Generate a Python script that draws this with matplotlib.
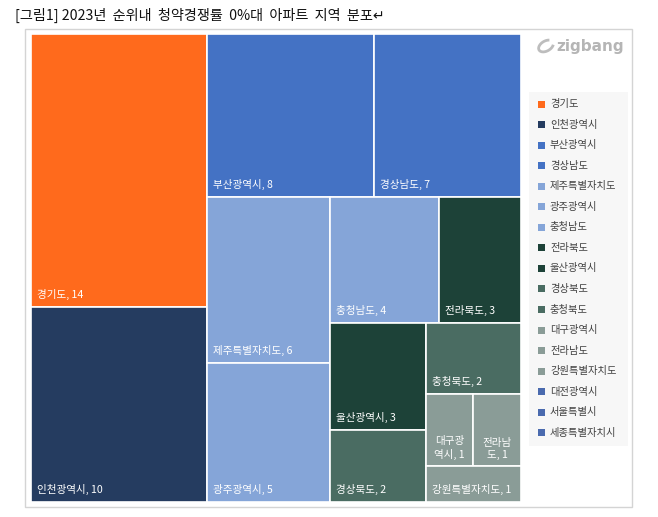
import matplotlib
matplotlib.use("Agg")
import matplotlib.pyplot as plt
from matplotlib.patches import Rectangle, Arc

plt.rcParams['font.family'] = ['Noto Sans CJK KR', 'DejaVu Sans']

# ---------------- data ----------------
title = "[그림1] 2023년  순위내  청약경쟁률  0%대  아파트  지역  분포\u21b5"
regions = ["경기도", "인천광역시", "부산광역시", "경상남도", "제주특별자치도",
           "광주광역시", "충청남도", "전라북도", "울산광역시", "경상북도",
           "충청북도", "대구광역시", "전라남도", "강원특별자치도",
           "대전광역시", "서울특별시", "세종특별자치시"]
counts = [14, 10, 8, 7, 6, 5, 4, 3, 3, 2, 2, 1, 1, 1, 0, 0, 0]
colors = ["#FF6A1C", "#253C60", "#4472C4", "#4472C4", "#85A5D8",
          "#85A5D8", "#85A5D8", "#1D4238", "#1D4238", "#4A6C62",
          "#4A6C62", "#8A9C97", "#8A9C97", "#8A9C97",
          "#4A6AAE", "#4A6AAE", "#4A6AAE"]

# ---------------- figure ----------------
W, H = 658, 517
fig = plt.figure(figsize=(W / 100, H / 100), dpi=100)
fig.patch.set_facecolor("white")


def px_axes(x0, y0, x1, y1):
    return fig.add_axes([x0 / W, 1 - y1 / H, (x1 - x0) / W, (y1 - y0) / H])


# outer chart frame
fig.patches.append(Rectangle((25 / W, 1 - 507 / H), (632 - 25) / W, (507 - 29) / H,
                             transform=fig.transFigure, fill=False,
                             edgecolor="#D4D4D4", linewidth=1.0))

fig.text(15 / W, 1 - 15 / H, title, fontsize=10.2, color="#111111",
         ha="left", va="center")

# ---------------- squarified treemap ----------------
TW, TH = 490.0, 468.0
vals = [v for v in counts if v > 0]
scale = TW * TH / sum(vals)
areas = [v * scale for v in vals]


def worst(row, side):
    s = sum(row)
    return max(max(side * side * r / (s * s), (s * s) / (side * side * r)) for r in row)


def layout(areas, x, y, w, h):
    rects = []
    i = 0
    while i < len(areas):
        side = min(w, h)
        row = [areas[i]]
        j = i + 1
        while j < len(areas) and worst(row + [areas[j]], side) <= worst(row, side):
            row.append(areas[j])
            j += 1
        s = sum(row)
        if w >= h:  # column on the left
            cw = s / h
            yy = y
            for a in row:
                rh = a / cw
                rects.append((x, yy, cw, rh))
                yy += rh
            x += cw
            w -= cw
        else:  # row on top
            rh = s / w
            xx = x
            for a in row:
                rw = a / rh
                rects.append((xx, y, rw, rh))
                xx += rw
            y += rh
            h -= rh
        i = j
    return rects


rects = layout(areas, 0.0, 0.0, TW, TH)

ax = px_axes(31, 34, 521, 502)
ax.set_xlim(0, TW)
ax.set_ylim(TH, 0)
ax.axis("off")

for (x, y, w, h), name, v, c in zip(rects, regions, vals, colors):
    ax.add_patch(Rectangle((x, y), w, h, facecolor=c, edgecolor="white", linewidth=1.2))
    label = f"{name}, {v}"
    if w < 60:
        lines = [name[:3], name[3:] + f", {v}"]
        ax.text(x + w / 2, y + h - 6, "\n".join(lines), color="white", fontsize=7.6,
                ha="center", va="bottom", linespacing=1.3)
    else:
        ax.text(x + 6, y + h - 7, label, color="white", fontsize=7.6,
                ha="left", va="bottom")

# ---------------- legend ----------------
lax = px_axes(529, 92, 628, 446)
lax.set_xlim(0, 99)
lax.set_ylim(354, 0)
lax.axis("off")
lax.add_patch(Rectangle((0, 0), 99, 354, facecolor="#F7F7F7", edgecolor="none"))
for k, (name, c) in enumerate(zip(regions, colors)):
    yc = 12 + k * 20.55
    lax.add_patch(Rectangle((9, yc - 3.5), 7, 7, facecolor=c, edgecolor="none"))
    lax.text(21, yc, name, fontsize=7.4, color="#404040", ha="left", va="center")

# logo (icon drawn as a shape, wordmark as text)
gax = px_axes(536, 36, 556, 56)
gax.set_xlim(0, 20)
gax.set_ylim(20, 0)
gax.axis("off")
gax.add_patch(Arc((10, 10), 16, 10, angle=-30, theta1=20, theta2=330,
                  color="#BDBDBD", linewidth=2.0))
fig.text(556 / W, 1 - 46 / H, "zigbang", fontsize=11, color="#B5B5B5",
         ha="left", va="center", fontweight="bold", family="DejaVu Sans")

fig.savefig("out.png", dpi=100, facecolor="white")
